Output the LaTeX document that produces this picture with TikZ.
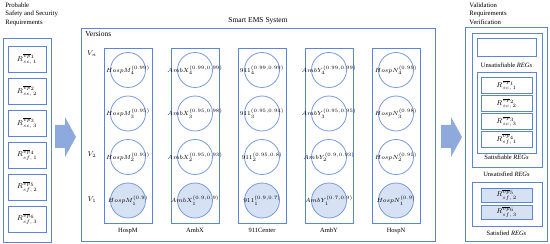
\documentclass[tikz,border=0pt]{standalone}
\usepackage{amsmath}
\usepackage{fontspec}
\setmainfont{Liberation Serif}
\usetikzlibrary{positioning}
\definecolor{boxblue}{RGB}{92,134,212}
\definecolor{ringblue}{RGB}{118,154,226}
\definecolor{paleblue}{RGB}{214,225,243}
\definecolor{arrowblue}{RGB}{142,170,221}

\begin{document}
\begin{tikzpicture}[x=1pt,y=1pt,line width=.8pt,
  frame/.style={draw=boxblue},
  reqbox/.style={draw=boxblue,minimum width=38pt,minimum height=26pt,inner sep=0pt,outer sep=0pt,font=\fontsize{7.5}{8}\selectfont},
  regbox/.style={draw=boxblue,minimum width=51pt,minimum height=16pt,inner sep=0pt,outer sep=0pt,font=\fontsize{7}{7}\selectfont},
  colbox/.style={draw=boxblue,minimum width=48pt,minimum height=175pt,inner sep=0pt,outer sep=0pt},
  version/.style={draw=ringblue,circle,minimum size=35pt,inner sep=0pt,font=\fontsize{5.7}{6}\selectfont},
  basever/.style={version,fill=paleblue},
  caption/.style={font=\fontsize{6.5}{7.5}\selectfont,inner sep=1pt},
  heading/.style={font=\fontsize{6.7}{8.5}\selectfont,align=left,anchor=north west,inner sep=0pt},
  title/.style={font=\fontsize{7.5}{9}\selectfont,inner sep=1pt},
  bigarrow/.style={fill=arrowblue,draw=none}]
\useasboundingbox (0,0) rectangle (550,244);

% probable requirements
\node[heading] (probable) at (5,242) {Probable\\Safety and Security\\Requirements};
\draw[frame] (3,2) rectangle (51,206);
\node[reqbox] (lsc1) at (27,185) {$R^{\overline{vp}_1}_{sc,\,1}$};
\node[reqbox,below=6pt of lsc1] (lsc2) {$R^{\overline{vp}_2}_{sc,\,2}$};
\node[reqbox,below=6pt of lsc2] (lsc3) {$R^{\overline{vp}_3}_{sc,\,3}$};
\node[reqbox,below=6pt of lsc3] (lsf1) {$R^{\overline{vp}_4}_{sf,\,1}$};
\node[reqbox,below=6pt of lsf1] (lsf2) {$R^{\overline{vp}_5}_{sf,\,2}$};
\node[reqbox,below=6pt of lsf2] (lsf3) {$R^{\overline{vp}_6}_{sf,\,3}$};

% big arrows
\foreach \ax in {55,441}
  \fill[bigarrow] (\ax,119) -- ++(10,0) -- ++(0,8) -- ++(11,-20) -- ++(-11,-20) -- ++(0,9) -- ++(-10,0) -- cycle;

% smart EMS system
\node[title] (ems) at (258,223) {Smart EMS System};
\draw[frame] (81,3) rectangle (435,216);
\node[title,anchor=west] (versions) at (84,210) {Versions};
\node[caption,font=\fontsize{7.5}{9}\selectfont] (vn) at (92,190) {$V_n$};
\node[caption,font=\fontsize{7.5}{9}\selectfont] (v2) at (92,89) {$V_2$};
\node[caption,font=\fontsize{7.5}{9}\selectfont] (v1) at (92,44) {$V_1$};
\foreach \col/\name/\sys/\pd/\pc/\pb/\pa [count=\i from 0] in {
  hospm/HospM/HospM/{(0.99)}/{(0.95)}/{(0.93)}/{(0.9)},
  ambx/AmbX/AmbX/{(0.99,0.99)}/{(0.95,0.98)}/{(0.95,0.93)}/{(0.9,0.9)},
  ctr/911/911Center/{(0.99,0.99)}/{(0.95,0.94)}/{(0.95,0.8)}/{(0.9,0.7)},
  amby/AmbY/AmbY/{(0.99,0.99)}/{(0.95,0.95)}/{(0.9,0.93)}/{(0.7,0.9)},
  hospn/HospN/HospN/{(0.99)}/{(0.98)}/{(0.95)}/{(0.9)}}
{
  \node[colbox] (\col) at ({128+67*\i},108.5) {};
  \node[version] (\col4) at ({128+67*\i},174) {\makebox[0pt]{$\name_4^{\pd}$}};
  \node[version] (\col3) at ({128+67*\i},130.5) {\makebox[0pt]{$\name_3^{\pc}$}};
  \node[version] (\col2) at ({128+67*\i},87) {\makebox[0pt]{$\name_2^{\pb}$}};
  \node[basever] (\col1) at ({128+67*\i},43.5) {\makebox[0pt]{$\name_1^{\pa}$}};
  \node[caption,below=4pt of \col] (\col-lab) {\sys};
}

% validation
\node[heading] (validation) at (469,242) {Validation\\Requirements\\Verification};
\draw[frame] (465,3) rectangle (547,217);
\draw[frame] (472,77) rectangle (542,211);
\node[draw=boxblue,minimum width=59pt,minimum height=18pt,inner sep=0pt] (unsat) at (506.5,197) {};
\node[caption] (unsat-lab) at (506.5,179) {Unsatisfiable \textit{REGs}};
\draw[frame] (477,91) rectangle (536,172);
\node[regbox] (rsc1) at (506.5,158.5) {$R^{\overline{vp}_1}_{sc,\,1}$};
\node[regbox,below=2pt of rsc1] (rsc2) {$R^{\overline{vp}_2}_{sc,\,2}$};
\node[regbox,below=2pt of rsc2] (rsc3) {$R^{\overline{vp}_3}_{sc,\,3}$};
\node[regbox,below=2pt of rsc3] (rsf1) {$R^{\overline{vp}_4}_{sf,\,1}$};
\node[caption] (sable-lab) at (506.5,86.5) {Satisfiable \textit{REGs}};
\node[caption] (unsd-lab) at (506.5,70) {Unsatisfied \textit{REGs}};
\draw[frame] (472,18) rectangle (542,62);
\node[regbox,fill=paleblue,minimum height=14pt] (rsf2) at (506.5,49) {$R^{\overline{vp}_5}_{sf,\,2}$};
\node[regbox,fill=paleblue,minimum height=14pt,below=3pt of rsf2] (rsf3) {$R^{\overline{vp}_6}_{sf,\,3}$};
\node[caption] (sd-lab) at (506.5,11) {Satisfied \textit{REGs}};
\end{tikzpicture}
\end{document}
